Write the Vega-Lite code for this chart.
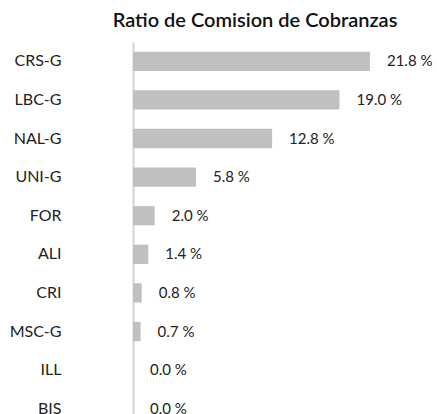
{
  "$schema": "https://vega.github.io/schema/vega-lite/v6.json",
  "width": 244,
  "height": 386,
  "autosize": {"type": "none"},
  "padding": {"left": 133, "top": 42, "right": 60, "bottom": 0},
  "background": "white",
  "title": {
    "text": "Ratio de Comision de Cobranzas",
    "font": "Lato",
    "fontSize": 20,
    "fontWeight": 600,
    "color": "#111111",
    "anchor": "middle",
    "offset": 11
  },
  "data": {
    "values": [
      {"entidad": "CRS-G", "ratio": 21.8},
      {"entidad": "LBC-G", "ratio": 19.0},
      {"entidad": "NAL-G", "ratio": 12.8},
      {"entidad": "UNI-G", "ratio": 5.8},
      {"entidad": "FOR", "ratio": 2.0},
      {"entidad": "ALI", "ratio": 1.4},
      {"entidad": "CRI", "ratio": 0.8},
      {"entidad": "MSC-G", "ratio": 0.7},
      {"entidad": "ILL", "ratio": 0.0},
      {"entidad": "BIS", "ratio": 0.0}
    ]
  },
  "encoding": {
    "y": {
      "field": "entidad",
      "type": "nominal",
      "sort": null,
      "title": null,
      "scale": {"paddingInner": 0.5, "paddingOuter": 0.25},
      "axis": {
        "ticks": false,
        "domainColor": "#d4d4d4",
        "domainWidth": 2,
        "labelFont": "Lato",
        "labelFontSize": 16,
        "labelColor": "#222222",
        "labelPadding": 72
      }
    },
    "x": {
      "field": "ratio",
      "type": "quantitative",
      "scale": {"domain": [0, 22.45], "nice": false},
      "axis": null
    }
  },
  "layer": [
    {"mark": {"type": "bar", "color": "#c0c0c0"}},
    {
      "mark": {
        "type": "text",
        "align": "left",
        "dx": 17,
        "font": "Lato",
        "fontSize": 15,
        "color": "#222222",
        "text": {"expr": "format(datum.ratio, '.1f') + ' %'"}
      }
    }
  ],
  "config": {"view": {"stroke": null}}
}
